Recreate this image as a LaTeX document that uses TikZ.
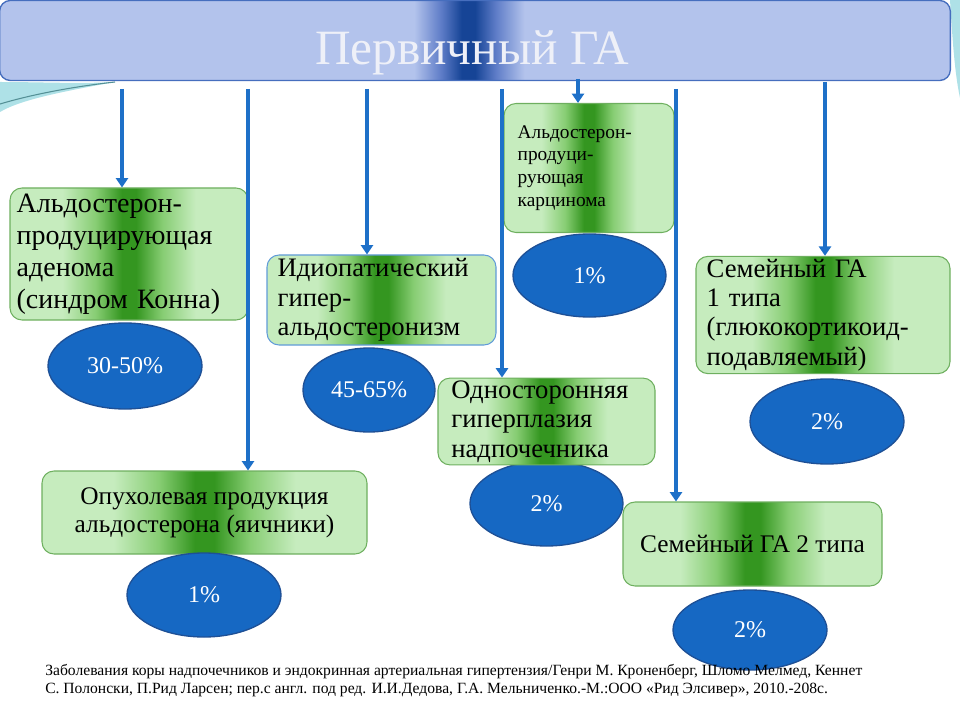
\documentclass[tikz,border=0pt]{standalone}
\usepackage{fontspec}
\setmainfont{Liberation Serif}
\usetikzlibrary{shapes.geometric,arrows.meta}

\definecolor{bannerfill}{RGB}{179,195,236}
\definecolor{bannermid}{RGB}{95,125,200}
\definecolor{bannerdark}{RGB}{22,68,150}
\definecolor{bannerline}{RGB}{70,110,190}
\definecolor{bannertext}{RGB}{238,240,248}
\definecolor{arrowblue}{RGB}{30,112,200}
\definecolor{glight}{RGB}{198,236,190}
\definecolor{gmid}{RGB}{135,205,115}
\definecolor{gdark}{RGB}{52,150,32}
\definecolor{gline}{RGB}{110,175,95}
\definecolor{ovalfill}{RGB}{22,104,195}
\definecolor{ovalline}{RGB}{30,80,150}
\definecolor{swirl}{RGB}{120,205,215}

\pgfdeclarehorizontalshading{greenband}{100bp}{color(0bp)=(glight); color(36bp)=(glight); color(43bp)=(gmid); color(48.5bp)=(gdark); color(51.5bp)=(gdark); color(57bp)=(gmid); color(64bp)=(glight); color(100bp)=(glight)}
\pgfdeclarehorizontalshading{blueband}{100bp}{color(0bp)=(bannerfill); color(46.8bp)=(bannerfill); color(48.2bp)=(bannermid); color(49.3bp)=(bannerdark); color(50bp)=(bannerdark); color(51.1bp)=(bannermid); color(52.6bp)=(bannerfill); color(100bp)=(bannerfill)}

\tikzset{
  banner/.style={draw=bannerline, line width=1pt, rounded corners=8pt, shading=blueband,
    minimum width=713pt, minimum height=60pt},
  heading/.style={text=bannertext, inner sep=0pt, font=\fontsize{37pt}{42pt}\selectfont},
  gbox/.style={draw=gline, line width=0.8pt, rounded corners=9pt, shading=greenband,
    inner xsep=8pt, inner ysep=2pt, align=left, font=\fontsize{20pt}{22pt}\selectfont},
  oval/.style={ellipse, draw=ovalline, line width=1pt, fill=ovalfill, text=white,
    inner sep=0pt, font=\fontsize{18pt}{20pt}\selectfont},
  link/.style={arrowblue, line width=2.6pt, -{Triangle[width=9pt,length=7pt]}},
  footer/.style={inner sep=0pt, align=left, font=\fontsize{11.7pt}{13.5pt}\selectfont}
}

\begin{document}
\begin{tikzpicture}[x=0.75pt, y=-0.75pt]
  \useasboundingbox (0,0) rectangle (960,720);

  % decoration
  \fill[swirl!60] (0,82) .. controls (40,82) and (80,84) .. (115,82) .. controls (60,92) and (20,100) .. (0,112) -- cycle;
  \draw[swirl!70!black, line width=0.8pt] (0,104) .. controls (30,95) and (70,87) .. (115,82);
  \fill[swirl!60] (950,0) -- (960,0) -- (960,98) .. controls (954,70) and (952,30) .. (950,0);

  \node[banner] (banner) at (475,40.5) {};
  \node[heading] (title) at (472,53) {Первичный ГА};

  % boxes
  \node[gbox, inner xsep=5pt, minimum width=178.5pt, minimum height=99pt, text width=168.5pt,
        font=\fontsize{21pt}{24pt}\selectfont] (adenoma) at (129,254)
        {Альдостерон-\\продуцирующая\\аденома\\(синдром Конна)};
  \node[gbox, draw=arrowblue!70, minimum width=171.75pt, minimum height=67.5pt, text width=155.75pt] (idio) at (381.5,300)
        {Идиопатический\\гипер-\\альдостеронизм};
  \node[gbox, inner xsep=10pt, minimum width=127.5pt, minimum height=96.75pt, text width=107pt,
        font=\fontsize{14.5pt}{17pt}\selectfont] (carc) at (589,168)
        {Альдостерон-\\продуци-\\рующая\\карцинома};
  \node[gbox, minimum width=190.5pt, minimum height=87pt, text width=174.5pt] (fam1) at (823,315)
        {Семейный ГА\\1 типа\\(глюкокортикоид-\\подавляемый)};
  \node[gbox, align=center, minimum width=194.25pt, minimum height=63pt,
        font=\fontsize{19pt}{21pt}\selectfont] (fam2) at (752.5,544)
        {Семейный ГА 2 типа};
  \node[gbox, align=center, minimum width=243.75pt, minimum height=62.25pt,
        font=\fontsize{19pt}{21pt}\selectfont] (ovary) at (204.5,512.5)
        {Опухолевая продукция\\альдостерона (яичники)};

  % shares
  \node[oval, minimum width=115.5pt, minimum height=64.5pt] (p-adenoma) at (125,366) {30-50\%};
  \node[oval, minimum width=99pt, minimum height=63pt] (p-idio) at (369,390) {45-65\%};
  \node[oval, minimum width=114.75pt, minimum height=62.25pt] (p-carc) at (589.5,275.5) {1\%};
  \node[oval, minimum width=115.5pt, minimum height=63.75pt] (p-fam1) at (827,421.5) {2\%};
  \node[oval, minimum width=114.75pt, minimum height=63.75pt] (p-uni) at (546.5,503.5) {2\%};
  \node[oval, minimum width=115.5pt, minimum height=60pt] (p-fam2) at (750,630) {2\%};
  \node[oval, minimum width=115.5pt, minimum height=63pt] (p-ovary) at (204,595) {1\%};

  \node[gbox, inner xsep=10pt, minimum width=162.75pt, minimum height=63.75pt, text width=142.75pt] (uni) at (546.5,421.5)
        {Односторонняя\\гиперплазия\\надпочечника};

  % arrows from the title
  \coordinate (a1) at (122,89);
  \coordinate (a2) at (248,89);
  \coordinate (a3) at (367,89);
  \coordinate (a4) at (502,89);
  \coordinate (a5) at (578,79);
  \coordinate (a6) at (676,89);
  \coordinate (a7) at (825,82);
  \draw[link] (a1) -- (a1 |- adenoma.north);
  \draw[link] (a2) -- (a2 |- ovary.north);
  \draw[link] (a3) -- (a3 |- idio.north);
  \draw[link] (a4) -- (a4 |- uni.north);
  \draw[link] (a5) -- (a5 |- carc.north);
  \draw[link] (a6) -- (a6 |- fam2.north);
  \draw[link] (a7) -- (a7 |- fam1.north);

  \node[footer, anchor=north west] (source) at (45,664)
        {Заболевания коры надпочечников и эндокринная артериальная гипертензия/Генри М. Кроненберг, Шломо Мелмед, Кеннет\\
         С. Полонски, П.Рид Ларсен; пер.с англ. под ред. И.И.Дедова, Г.А. Мельниченко.-М.:ООО «Рид Элсивер», 2010.-208с.};
\end{tikzpicture}
\end{document}
